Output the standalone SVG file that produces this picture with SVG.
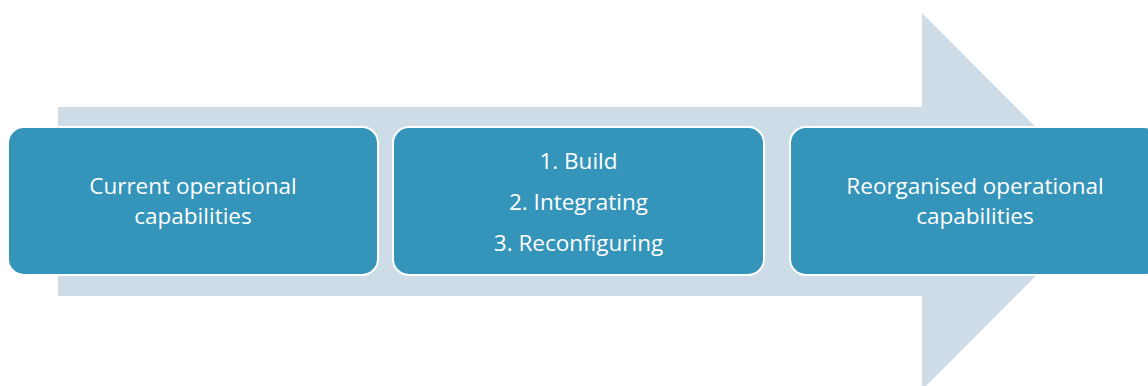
<svg xmlns="http://www.w3.org/2000/svg" width="1148" height="386" viewBox="0 0 1148 386">
  <style>
    .bg { fill: #ffffff; }
    .arrow { fill: #CDDCE7; }
    .box { fill: #3494BA; stroke: #ffffff; stroke-width: 2; }
    .label { font-family: "Open Sans", "Liberation Sans", sans-serif; font-size: 22.5px; fill: #ffffff; text-anchor: middle; }
  </style>
  <rect class="bg" x="0" y="0" width="1148" height="386"/>

  <!-- Background process arrow -->
  <g id="process-arrow">
    <polygon class="arrow" points="58,107 922,107 922,13 1110,201.5 922,390 922,296 58,296"/>
  </g>

  <g id="connectors"></g>

  <g id="node-current">
    <rect class="box" x="8" y="127" width="370" height="148" rx="16" ry="16"/>
    <text class="label" x="193" y="194">Current operational</text>
    <text class="label" x="193" y="224">capabilities</text>
  </g>

  <g id="node-steps">
    <rect class="box" x="393" y="127" width="371" height="148" rx="16" ry="16"/>
    <text class="label" x="578.5" y="169">1. Build</text>
    <text class="label" x="578.5" y="210">2. Integrating</text>
    <text class="label" x="578.5" y="251">3. Reconfiguring</text>
  </g>

  <g id="node-reorganised">
    <rect class="box" x="790" y="127" width="370" height="148" rx="16" ry="16"/>
    <text class="label" x="975" y="194">Reorganised operational</text>
    <text class="label" x="975" y="224">capabilities</text>
  </g>
</svg>
